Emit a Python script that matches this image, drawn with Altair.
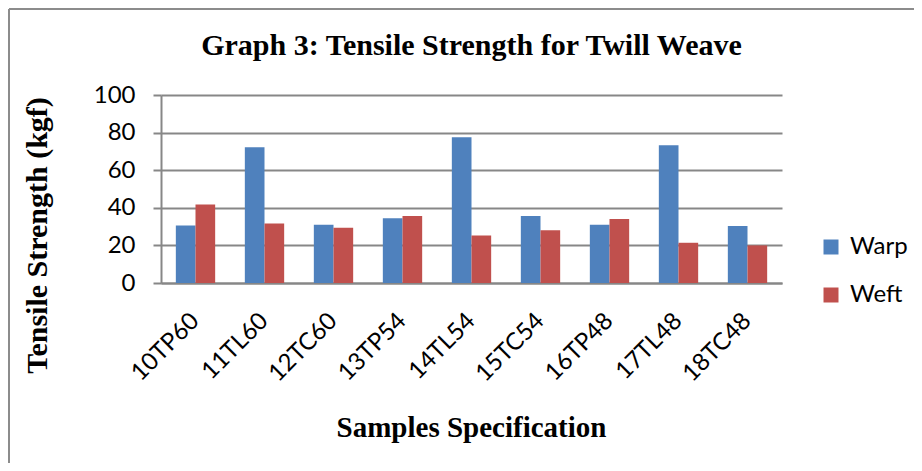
import altair as alt
import pandas as pd

categories = ["10TP60", "11TL60", "12TC60", "13TP54", "14TL54", "15TC54", "16TP48", "17TL48", "18TC48"]
warp = [30.6, 72.2, 31.0, 34.5, 77.5, 35.6, 31.0, 73.3, 30.3]
weft = [41.8, 31.7, 29.4, 35.6, 25.3, 28.1, 34.0, 21.4, 20.0]
series = ["Warp", "Weft"]
colors = ["#4F81BD", "#C0504D"]
y_ticks = [0, 20, 40, 60, 80, 100]

rows = []
for c, a, b in zip(categories, warp, weft):
    rows.append({"Sample": c, "Direction": "Warp", "Value": a})
    rows.append({"Sample": c, "Direction": "Weft", "Value": b})
df = pd.DataFrame(rows)

GRAY = "#878787"
PLOT_W, PLOT_H = 621, 188

bars = alt.Chart(df).mark_bar().encode(
    x=alt.X(
        "Sample:N",
        sort=categories,
        scale=alt.Scale(paddingInner=0.43, paddingOuter=0.215),
        axis=alt.Axis(
            title="Samples Specification",
            titleFont="Liberation Serif",
            titleFontSize=29,
            titleFontWeight="bold",
            titleColor="black",
            titleX=310,
            titleY=144,
            titleBaseline="middle",
            labelAngle=-45,
            labelAlign="right",
            labelBaseline="middle",
            labelFont="Lato",
            labelFontSize=24,
            labelColor="black",
            labelPadding=34,
            ticks=False,
            domainColor=GRAY,
            domainWidth=2,
        ),
    ),
    xOffset=alt.XOffset("Direction:N", sort=series),
    y=alt.Y(
        "Value:Q",
        scale=alt.Scale(domain=[0, 100], nice=False),
        axis=alt.Axis(
            values=y_ticks,
            title="Tensile Strength (kgf)",
            titleFont="Liberation Serif",
            titleFontSize=30,
            titleFontWeight="bold",
            titleColor="black",
            titleAngle=-90,
            titleX=-124,
            titleY=140,
            titleBaseline="middle",
            titleAlign="center",
            labelFont="Lato",
            labelFontSize=24,
            labelColor="black",
            labelPadding=18,
            tickSize=8,
            tickColor=GRAY,
            tickWidth=2,
            domainColor=GRAY,
            domainWidth=2,
            gridColor=GRAY,
            gridWidth=2,
        ),
    ),
    color=alt.Color(
        "Direction:N",
        scale=alt.Scale(domain=series, range=colors),
        legend=alt.Legend(
            orient="none",
            legendX=658,
            legendY=140,
            title=None,
            symbolType="square",
            symbolSize=225,
            symbolStrokeWidth=0,
            labelFont="Lato",
            labelFontSize=24,
            labelColor="black",
            labelOffset=7,
            rowPadding=24,
            padding=0,
        ),
    ),
)

frame_df = pd.DataFrame({"k": [0]})
left_border = alt.Chart(frame_df).mark_rule(color="#8c8c8c", strokeWidth=2).encode(
    x=alt.value(-152), y=alt.value(-86), y2=alt.value(380)
)
top_border = alt.Chart(frame_df).mark_rule(color="#8c8c8c", strokeWidth=2).encode(
    x=alt.value(-152), x2=alt.value(760), y=alt.value(-86)
)

chart = alt.layer(bars, left_border, top_border).properties(
    width=PLOT_W,
    height=PLOT_H,
    padding={"left": 153, "top": 87, "right": 132, "bottom": 180},
    autosize=alt.AutoSizeParams(type="none"),
    title=alt.Title(
        "Graph 3: Tensile Strength for Twill Weave",
        font="Liberation Serif",
        fontSize=30,
        fontWeight="bold",
        color="black",
        anchor="middle",
        frame="group",
        baseline="alphabetic",
        offset=-77,
    ),
    background="white",
).configure_view(stroke=None)

chart.save("out.html", embed_options={"renderer": "svg", "actions": False})
